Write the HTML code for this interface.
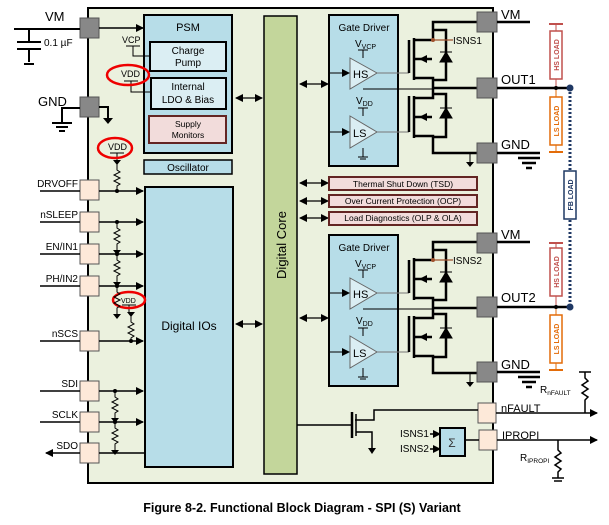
<!DOCTYPE html>
<html><head><meta charset="utf-8"><style>
body{margin:0;background:#fff;}
svg{display:block;font-family:"Liberation Sans",sans-serif;}
</style></head><body>
<svg width="609" height="525" viewBox="0 0 609 525" xmlns="http://www.w3.org/2000/svg">
<defs>
<marker id="a" markerWidth="8" markerHeight="8" refX="7" refY="4" orient="auto" markerUnits="userSpaceOnUse"><path d="M0,0 L8,4 L0,8z" fill="#000"/></marker>
<marker id="as" markerWidth="8" markerHeight="8" refX="1" refY="4" orient="auto" markerUnits="userSpaceOnUse"><path d="M8,0 L0,4 L8,8z" fill="#000"/></marker>
</defs>
<rect x="88" y="8" width="405" height="475" fill="#ebf1de" stroke="#000" stroke-width="2"/>
<rect x="144" y="15" width="88" height="138" fill="#b7dde8" stroke="#000" stroke-width="2"/>
<text x="188" y="31" font-size="11" text-anchor="middle">PSM</text>
<rect x="150" y="42" width="76" height="29" fill="#dbeef3" stroke="#000" stroke-width="2"/>
<text x="188" y="54" font-size="10" text-anchor="middle">Charge</text><text x="188" y="66" font-size="10" text-anchor="middle">Pump</text>
<rect x="151" y="78" width="75" height="31" fill="#dbeef3" stroke="#000" stroke-width="2"/>
<text x="188" y="90" font-size="10" text-anchor="middle">Internal</text><text x="188" y="103" font-size="10" text-anchor="middle">LDO &amp; Bias</text>
<rect x="149" y="116" width="77" height="27" fill="#f2dcdb" stroke="#632523" stroke-width="2"/>
<text x="188" y="127" font-size="8.5" text-anchor="middle">Supply</text><text x="188" y="138" font-size="8.5" text-anchor="middle">Monitors</text>
<rect x="144" y="160" width="88" height="14" fill="#b7dde8" stroke="#000" stroke-width="1.5"/>
<text x="188" y="171" font-size="10" text-anchor="middle">Oscillator</text>
<rect x="145" y="187" width="88" height="280" fill="#b7dde8" stroke="#000" stroke-width="2"/>
<text x="189" y="330" font-size="12" text-anchor="middle">Digital IOs</text>
<rect x="264" y="16" width="33" height="458" fill="#c3d69b" stroke="#000" stroke-width="1.5"/>
<text transform="translate(286,245) rotate(-90)" font-size="13" text-anchor="middle">Digital Core</text>
<g stroke="#000" stroke-width="1.2">
<line x1="236" y1="98" x2="262" y2="98" marker-end="url(#a)" marker-start="url(#as)"/>
<line x1="236" y1="324" x2="262" y2="324" marker-end="url(#a)" marker-start="url(#as)"/>
<line x1="300" y1="84" x2="328" y2="84" marker-end="url(#a)" marker-start="url(#as)"/>
<line x1="300" y1="183" x2="328" y2="183" marker-end="url(#a)" marker-start="url(#as)"/>
<line x1="300" y1="201" x2="328" y2="201" marker-end="url(#a)" marker-start="url(#as)"/>
<line x1="300" y1="218" x2="328" y2="218" marker-end="url(#a)" marker-start="url(#as)"/>
<line x1="300" y1="318" x2="328" y2="318" marker-end="url(#a)" marker-start="url(#as)"/>
</g>
<g fill="#f2dcdb" stroke="#632523" stroke-width="2">
<rect x="329" y="177" width="148" height="13"/><rect x="329" y="195" width="148" height="12"/><rect x="329" y="212" width="148" height="13"/>
</g>
<g font-size="8.5" text-anchor="middle"><text x="403" y="187">Thermal Shut Down (TSD)</text><text x="403" y="204">Over Current Protection (OCP)</text><text x="403" y="221">Load Diagnostics (OLP &amp; OLA)</text></g>
<g>
<rect x="329" y="15" width="69" height="151" fill="#b7dde8" stroke="#000" stroke-width="2"/>
<text x="364" y="31" font-size="10" text-anchor="middle">Gate Driver</text>
<text x="355" y="47" font-size="10">V<tspan font-size="7" dy="2">VCP</tspan></text>
<line x1="363" y1="50" x2="363" y2="58" stroke="#000"/><line x1="358" y1="50" x2="368" y2="50" stroke="#000"/>
<path d="M350,58 L377,73 L350,89z" fill="#dbeef3" stroke="#666"/>
<text x="353" y="78" font-size="11">HS</text>
<line x1="330" y1="73" x2="349" y2="73" stroke="#000" marker-end="url(#a)"/>
<text x="356" y="104" font-size="10">V<tspan font-size="7" dy="2">DD</tspan></text>
<line x1="363" y1="108" x2="363" y2="116" stroke="#000"/><line x1="358" y1="108" x2="368" y2="108" stroke="#000"/>
<path d="M350,116 L377,132 L350,148z" fill="#dbeef3" stroke="#666"/>
<text x="353" y="137" font-size="11">LS</text>
<line x1="330" y1="132" x2="349" y2="132" stroke="#000" marker-end="url(#a)"/>
<line x1="363" y1="148" x2="363" y2="157" stroke="#000"/><line x1="358" y1="157" x2="368" y2="157" stroke="#000"/><line x1="360" y1="159" x2="366" y2="159" stroke="#000"/>
<g stroke="#000" stroke-width="2.5" fill="none">
<line x1="377" y1="73" x2="409" y2="73" stroke="#777" stroke-width="1"/>
<line x1="377" y1="132" x2="409" y2="132" stroke="#777" stroke-width="1"/>
<path d="M409,73 L409,40 M414,38 L414,80 M414,40 L433,40 M414,59 L432,59 M414,78 L433,78 L433,88"/>
<path d="M433,40 L433,22 L478,22 M433,30 L446,30 L446,80 L433,80"/>
<path d="M409,132 L409,96 M414,96 L414,138 M414,98 L433,98 L433,88 M414,117 L432,117 M414,136 L433,136 L433,153 L478,153 M433,94 L446,94 L446,137 L433,137"/>
<line x1="433" y1="88" x2="478" y2="88"/>
</g>
<path d="M440,62 L452,62 L446,52z M440,52 L452,52" fill="#000" stroke="#000"/>
<path d="M440,118 L452,118 L446,108z M440,108 L452,108" fill="#000" stroke="#000"/>
<path d="M419,59 L427,55 L427,63z M419,117 L427,113 L427,121z" fill="#000"/>
<path d="M363,89 L433,89" stroke="#000" fill="none"/>
<line x1="433" y1="40" x2="453" y2="40" stroke="#a0522d" stroke-width="1.2"/><circle cx="433" cy="40" r="2" fill="#a0522d"/>
<path d="M470,153 L470,162" stroke="#000"/><path d="M466,162 L474,162 L470,167z" fill="#000"/>
</g>
<g transform="translate(0,220)">
<rect x="329" y="15" width="69" height="151" fill="#b7dde8" stroke="#000" stroke-width="2"/>
<text x="364" y="31" font-size="10" text-anchor="middle">Gate Driver</text>
<text x="355" y="47" font-size="10">V<tspan font-size="7" dy="2">VCP</tspan></text>
<line x1="363" y1="50" x2="363" y2="58" stroke="#000"/><line x1="358" y1="50" x2="368" y2="50" stroke="#000"/>
<path d="M350,58 L377,73 L350,89z" fill="#dbeef3" stroke="#666"/>
<text x="353" y="78" font-size="11">HS</text>
<line x1="330" y1="73" x2="349" y2="73" stroke="#000" marker-end="url(#a)"/>
<text x="356" y="104" font-size="10">V<tspan font-size="7" dy="2">DD</tspan></text>
<line x1="363" y1="108" x2="363" y2="116" stroke="#000"/><line x1="358" y1="108" x2="368" y2="108" stroke="#000"/>
<path d="M350,116 L377,132 L350,148z" fill="#dbeef3" stroke="#666"/>
<text x="353" y="137" font-size="11">LS</text>
<line x1="330" y1="132" x2="349" y2="132" stroke="#000" marker-end="url(#a)"/>
<line x1="363" y1="148" x2="363" y2="157" stroke="#000"/><line x1="358" y1="157" x2="368" y2="157" stroke="#000"/><line x1="360" y1="159" x2="366" y2="159" stroke="#000"/>
<g stroke="#000" stroke-width="2.5" fill="none">
<line x1="377" y1="73" x2="409" y2="73" stroke="#777" stroke-width="1"/>
<line x1="377" y1="132" x2="409" y2="132" stroke="#777" stroke-width="1"/>
<path d="M409,73 L409,40 M414,38 L414,80 M414,40 L433,40 M414,59 L432,59 M414,78 L433,78 L433,88"/>
<path d="M433,40 L433,22 L478,22 M433,30 L446,30 L446,80 L433,80"/>
<path d="M409,132 L409,96 M414,96 L414,138 M414,98 L433,98 L433,88 M414,117 L432,117 M414,136 L433,136 L433,153 L478,153 M433,94 L446,94 L446,137 L433,137"/>
<line x1="433" y1="88" x2="478" y2="88"/>
</g>
<path d="M440,62 L452,62 L446,52z M440,52 L452,52" fill="#000" stroke="#000"/>
<path d="M440,118 L452,118 L446,108z M440,108 L452,108" fill="#000" stroke="#000"/>
<path d="M419,59 L427,55 L427,63z M419,117 L427,113 L427,121z" fill="#000"/>
<path d="M363,89 L433,89" stroke="#000" fill="none"/>
<line x1="433" y1="40" x2="453" y2="40" stroke="#a0522d" stroke-width="1.2"/><circle cx="433" cy="40" r="2" fill="#a0522d"/>
<path d="M470,153 L470,162" stroke="#000"/><path d="M466,162 L474,162 L470,167z" fill="#000"/>
</g>
<text x="453" y="44" font-size="10">ISNS1</text>
<text x="453" y="264" font-size="10">ISNS2</text>
<g fill="#888" stroke="#555"><rect x="477" y="12" width="20" height="20"/><rect x="477" y="78" width="20" height="20"/><rect x="477" y="143" width="20" height="20"/>
<rect x="477" y="233" width="20" height="20"/><rect x="477" y="297" width="20" height="20"/><rect x="477" y="362" width="20" height="20"/></g>
<g stroke="#000" stroke-width="2.5"><line x1="497" y1="22" x2="530" y2="22"/><line x1="497" y1="88" x2="570" y2="88"/><line x1="497" y1="153" x2="540" y2="153"/>
<line x1="497" y1="242" x2="530" y2="242"/><line x1="497" y1="307" x2="570" y2="307"/><line x1="497" y1="372" x2="540" y2="372"/></g>
<g stroke="#000" stroke-width="2.5"><line x1="518" y1="158" x2="540" y2="158"/><line x1="522" y1="163" x2="536" y2="163"/><line x1="526" y1="168" x2="532" y2="168"/>
<line x1="518" y1="377" x2="540" y2="377"/><line x1="522" y1="382" x2="536" y2="382"/><line x1="526" y1="387" x2="532" y2="387"/></g>
<g font-size="13"><text x="501" y="19">VM</text><text x="501" y="84">OUT1</text><text x="501" y="149">GND</text><text x="501" y="239">VM</text><text x="501" y="302">OUT2</text><text x="501" y="369">GND</text></g>
<line x1="570" y1="88" x2="570" y2="307" stroke="#1f3864" stroke-width="3" stroke-dasharray="2,2"/>
<circle cx="570" cy="88" r="3.5" fill="#1f3864"/><circle cx="570" cy="307" r="3.5" fill="#1f3864"/>
<g font-size="7" font-weight="bold">
<line x1="549" y1="24" x2="563" y2="24" stroke="#c0504d" stroke-width="2"/><line x1="556" y1="24" x2="556" y2="88" stroke="#c0504d"/>
<rect x="550" y="31" width="12" height="48" fill="#fff" stroke="#c0504d" stroke-width="1.5"/>
<text transform="translate(559,55) rotate(-90)" text-anchor="middle" fill="#c0504d">HS LOAD</text>
<line x1="556" y1="88" x2="556" y2="152" stroke="#e36c09"/><line x1="549" y1="152" x2="563" y2="152" stroke="#e36c09" stroke-width="2"/>
<rect x="550" y="97" width="12" height="48" fill="#fff" stroke="#e36c09" stroke-width="1.5"/>
<text transform="translate(559,121) rotate(-90)" text-anchor="middle" fill="#e36c09">LS LOAD</text>
<rect x="564" y="171" width="12" height="48" fill="#fff" stroke="#1f3864" stroke-width="1.5"/>
<text transform="translate(573,195) rotate(-90)" text-anchor="middle" fill="#1f3864">FB LOAD</text>
<line x1="549" y1="243" x2="563" y2="243" stroke="#c0504d" stroke-width="2"/><line x1="556" y1="243" x2="556" y2="307" stroke="#c0504d"/>
<rect x="550" y="248" width="12" height="48" fill="#fff" stroke="#c0504d" stroke-width="1.5"/>
<text transform="translate(559,272) rotate(-90)" text-anchor="middle" fill="#c0504d">HS LOAD</text>
<line x1="556" y1="307" x2="556" y2="370" stroke="#e36c09"/><line x1="549" y1="370" x2="563" y2="370" stroke="#e36c09" stroke-width="2"/>
<rect x="550" y="315" width="12" height="48" fill="#fff" stroke="#e36c09" stroke-width="1.5"/>
<text transform="translate(559,339) rotate(-90)" text-anchor="middle" fill="#e36c09">LS LOAD</text>
</g>
<circle cx="556" cy="88" r="2" fill="#000"/><circle cx="556" cy="307" r="2" fill="#000"/>
<g fill="#fde9d9" stroke="#555"><rect x="478" y="403" width="18" height="20"/><rect x="479" y="430" width="18" height="20"/></g>
<g stroke="#000" stroke-width="1.5" fill="none">
<line x1="496" y1="413" x2="597" y2="413" marker-end="url(#a)"/>
<line x1="497" y1="440" x2="597" y2="440" marker-end="url(#a)"/>
<path d="M478,410 L374,410 L374,420 L355,420"/>
<line x1="352" y1="412" x2="352" y2="438" stroke-width="2.5"/><path d="M356,414 L356,436 M297,425 L352,425 M356,432 L372,432 L372,448"/>
<path d="M585,413 L585,400 L588,397 L582,393 L588,389 L582,385 L588,381 L585,378 L585,372 M579,372 L591,372"/>
<path d="M558,440 L558,450 L561,453 L555,457 L561,461 L555,465 L561,469 L558,472 L558,478 M552,478 L564,478 M554,481 L562,481"/>
<line x1="430" y1="434" x2="440" y2="434" marker-end="url(#a)"/><line x1="430" y1="449" x2="440" y2="449" marker-end="url(#a)"/>
<line x1="465" y1="440" x2="479" y2="440"/>
</g>
<path d="M368,448 L376,448 L372,454z" fill="#000"/>
<rect x="440" y="428" width="25" height="28" fill="#b7dde8" stroke="#000" stroke-width="2"/>
<text x="452" y="447" font-size="12" text-anchor="middle" fill="#333">Σ</text>
<text x="400" y="437" font-size="10">ISNS1</text><text x="400" y="452" font-size="10">ISNS2</text>
<text x="501" y="412" font-size="11">nFAULT</text><text x="502" y="439" font-size="11">IPROPI</text>
<text x="540" y="393" font-size="10">R<tspan font-size="6.5" dy="2">nFAULT</tspan></text>
<text x="520" y="461" font-size="10">R<tspan font-size="6.5" dy="2">IPROPI</tspan></text>
<g fill="#888" stroke="#555"><rect x="80" y="18" width="19" height="20"/><rect x="80" y="97" width="19" height="20"/></g>
<g stroke="#000" stroke-width="2" fill="none">
<line x1="14" y1="29" x2="80" y2="29"/><line x1="29" y1="29" x2="29" y2="42"/><line x1="17" y1="42" x2="41" y2="42"/><line x1="17" y1="49" x2="41" y2="49"/><line x1="29" y1="49" x2="29" y2="62"/><line x1="24" y1="64" x2="34" y2="64"/>
<line x1="99" y1="28" x2="143" y2="28" stroke-width="1.5" marker-end="url(#a)"/>
<path d="M80,108 L62,108 L62,122 M52,123 L72,123 M56,127 L68,127 M59,131 L65,131"/>
<path d="M99,107 L108,107 L108,118"/>
</g>
<path d="M103,118 L113,118 L108,124z" fill="#000"/>
<text x="45" y="21" font-size="13">VM</text><text x="44" y="46" font-size="10">0.1 µF</text><text x="38" y="106" font-size="13">GND</text>
<text x="122" y="43" font-size="9">VCP</text><path d="M126,46 L140,46 M133,46 L133,56 L150,56" stroke="#000" fill="none"/>
<text x="121" y="77" font-size="9">VDD</text><path d="M124,81 L138,81 M131,81 L131,92 L151,92" stroke="#000" fill="none"/>
<ellipse cx="128" cy="75" rx="21" ry="10" fill="none" stroke="#e00" stroke-width="2.5"/>
<text x="108" y="150" font-size="9">VDD</text><path d="M110,153 L124,153 M117,153 L117,160" stroke="#000" fill="none"/>
<ellipse cx="115" cy="148" rx="17" ry="10" fill="none" stroke="#e00" stroke-width="2.5"/>
<text x="121" y="303" font-size="7">VDD</text><path d="M122,305 L136,305 M129,305 L129,312" stroke="#000" fill="none"/>
<ellipse cx="129" cy="300" rx="16" ry="8" fill="none" stroke="#e00" stroke-width="2.5"/>
<g fill="#fde9d9" stroke="#555">
<rect x="80" y="180" width="19" height="20"/><rect x="80" y="212" width="19" height="20"/><rect x="80" y="244" width="19" height="20"/><rect x="80" y="276" width="19" height="20"/>
<rect x="80" y="331" width="19" height="20"/><rect x="80" y="381" width="19" height="20"/><rect x="80" y="412" width="19" height="20"/><rect x="80" y="443" width="19" height="20"/>
</g>
<g stroke="#000" stroke-width="1.5" fill="none">
<line x1="40" y1="191" x2="80" y2="191"/><line x1="40" y1="222" x2="80" y2="222"/><line x1="40" y1="254" x2="80" y2="254"/><line x1="40" y1="286" x2="80" y2="286"/>
<line x1="40" y1="341" x2="80" y2="341"/><line x1="40" y1="391" x2="80" y2="391"/><line x1="40" y1="422" x2="80" y2="422"/><line x1="46" y1="453" x2="80" y2="453" marker-start="url(#as)"/>
<line x1="99" y1="191" x2="143" y2="191" marker-end="url(#a)"/><line x1="99" y1="222" x2="143" y2="222" marker-end="url(#a)"/><line x1="99" y1="254" x2="143" y2="254" marker-end="url(#a)"/><line x1="99" y1="286" x2="143" y2="286" marker-end="url(#a)"/>
<line x1="99" y1="341" x2="143" y2="341" marker-end="url(#a)"/><line x1="99" y1="391" x2="143" y2="391" marker-end="url(#a)"/><line x1="99" y1="422" x2="143" y2="422" marker-end="url(#a)"/><line x1="99" y1="453" x2="145" y2="453"/>
<g stroke-width="1">
<path d="M117,162 L117,170 L120,172 L114,175 L120,178 L114,181 L120,184 L117,186 L117,191"/>
<path d="M117,222 L117,228 L120,230 L114,233 L120,236 L114,239 L120,242 L117,244 L117,250"/>
<path d="M117,254 L117,260 L120,262 L114,265 L120,268 L114,271 L120,274 L117,276 L117,282"/>
<path d="M117,286 L117,292 L120,294 L114,297 L120,300 L114,303 L120,306 L117,308 L117,314"/>
<path d="M131,316 L131,322 L134,324 L128,327 L134,330 L128,333 L134,336 L131,338 L131,341"/>
<path d="M115,391 L115,397 L118,399 L112,402 L118,405 L112,408 L118,411 L115,413 L115,418"/>
<path d="M115,422 L115,428 L118,430 L112,433 L118,436 L112,439 L118,442 L115,444 L115,450"/>
</g></g>
<g fill="#000"><circle cx="117" cy="191" r="2"/><circle cx="117" cy="222" r="2"/><circle cx="117" cy="254" r="2"/><circle cx="117" cy="286" r="2"/><circle cx="131" cy="341" r="2"/><circle cx="115" cy="391" r="2"/><circle cx="115" cy="422" r="2"/>
<path d="M113,160 L121,160 L117,165z M113,250 L121,250 L117,255z M113,282 L121,282 L117,287z M113,314 L121,314 L117,319z M127,312 L135,312 L131,317z M111,418 L119,418 L115,423z M111,450 L119,450 L115,455z"/></g>
<g font-size="10" text-anchor="end"><text x="78" y="187">DRVOFF</text><text x="78" y="218">nSLEEP</text><text x="78" y="250">EN/IN1</text><text x="78" y="282">PH/IN2</text>
<text x="78" y="337">nSCS</text><text x="78" y="387">SDI</text><text x="78" y="418">SCLK</text><text x="78" y="449">SDO</text></g>
<text x="302" y="512" font-size="12.5" font-weight="bold" text-anchor="middle">Figure 8-2. Functional Block Diagram - SPI (S) Variant</text>
</svg>
</body></html>
